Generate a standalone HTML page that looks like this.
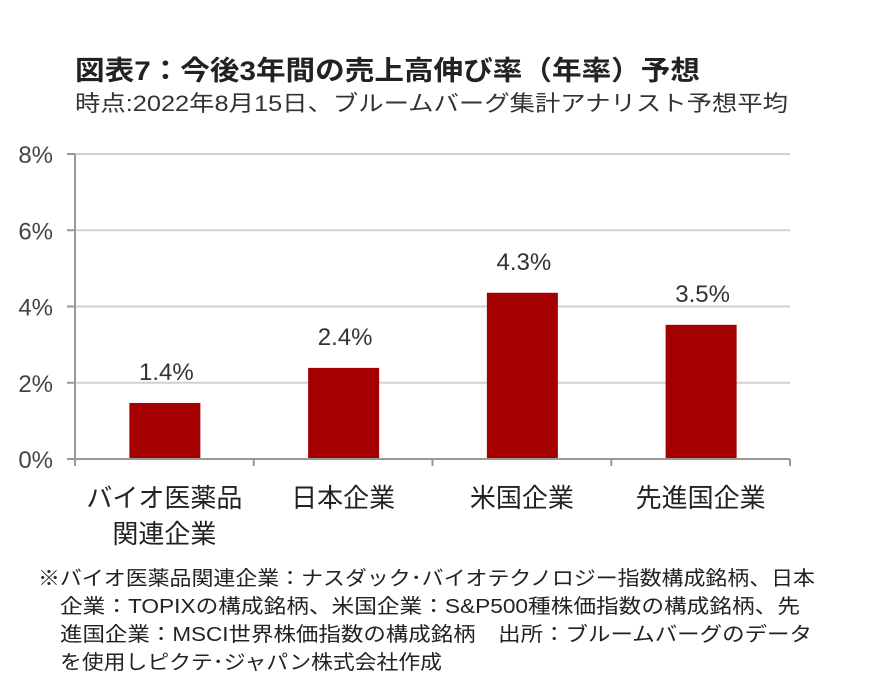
<!DOCTYPE html>
<html><head><meta charset="utf-8"><style>
body{margin:0;background:#fff;width:871px;height:695px;overflow:hidden;font-family:"Liberation Sans","Noto Sans CJK JP",sans-serif;}
svg text{font-family:"Liberation Sans","Noto Sans CJK JP",sans-serif;}
</style></head><body>
<svg width="871" height="695">
<text x="75" y="80" font-size="27" font-weight="bold" fill="#222" textLength="625" lengthAdjust="spacingAndGlyphs">図表7：今後3年間の売上高伸び率（年率）予想</text>
<text x="75" y="111" font-size="22" fill="#333" textLength="713" lengthAdjust="spacingAndGlyphs">時点:2022年8月15日、ブルームバーグ集計アナリスト予想平均</text>
<g id="grid"></g><g id="bars"></g><g id="axes"></g>
<g font-size="20" fill="#222">
<text x="38" y="585" textLength="777" lengthAdjust="spacingAndGlyphs">※バイオ医薬品関連企業：ナスダック･バイオテクノロジー指数構成銘柄、日本</text>
<text x="60" y="613" textLength="740" lengthAdjust="spacingAndGlyphs">企業：TOPIXの構成銘柄、米国企業：S&amp;P500種株価指数の構成銘柄、先</text>
<text x="60" y="641" textLength="752" lengthAdjust="spacingAndGlyphs">進国企業：MSCI世界株価指数の構成銘柄　出所：ブルームバーグのデータ</text>
<text x="60" y="669" textLength="382" lengthAdjust="spacingAndGlyphs">を使用しピクテ･ジャパン株式会社作成</text>
</g>
</svg>
<script>
const categories=[["バイオ医薬品","関連企業"],["日本企業"],["米国企業"],["先進国企業"]];
const values=[1.47,2.39,4.36,3.52];
const labels=["1.4%","2.4%","4.3%","3.5%"];
const ticks=[0,2,4,6,8];
const X0=75,X1=790,Y0=459,Y1=154,YMAX=8;
const y=v=>Y0-(v/YMAX)*(Y0-Y1);
const bw=(X1-X0)/categories.length;
const x=i=>X0+bw*(i+0.5);
const NS="http://www.w3.org/2000/svg";
function mk(t,a,p){const e=document.createElementNS(NS,t);for(const k in a)e.setAttribute(k,a[k]);p.appendChild(e);return e;}
const g=document.getElementById('grid'),b=document.getElementById('bars'),ax=document.getElementById('axes');
ticks.forEach(t=>{
 if(t>0){const l=mk('line',{x1:X0,x2:X1,y1:y(t),y2:y(t),stroke:'#d0d0d0','stroke-width':2},g);
 
 }
 const tk=mk('line',{x1:X0-8,x2:X0,y1:y(t),y2:y(t),stroke:'#999','stroke-width':2},ax);
 
 
 const tx=mk('text',{x:X0-22,y:y(t)+9,'font-size':24,fill:'#444','text-anchor':'end'},ax);
 tx.textContent=t+'%';
 
 
});
const yl=mk('line',{x1:X0,x2:X0,y1:Y1,y2:Y0,stroke:'#999','stroke-width':2},ax);


const xl=mk('line',{x1:X0,x2:X1,y1:Y0,y2:Y0,stroke:'#999','stroke-width':2},ax);


for(let i=0;i<=categories.length;i++){
 const t=mk('line',{x1:X0+bw*i,x2:X0+bw*i,y1:Y0,y2:Y0+7,stroke:'#999','stroke-width':2},ax);
 
 
}
values.forEach((v,i)=>{
 const r=mk('rect',{x:x(i)-35,y:y(v),width:71,height:Y0-y(v),fill:'#a50000'},b);
 
 
 const t=mk('text',{x:x(i)+2,y:y(v)-23,'font-size':24,fill:'#333','text-anchor':'middle'},b);
 t.textContent=labels[i];
 
 
 categories[i].forEach((s,j)=>{
  const c=mk('text',{x:x(i),y:507+j*36,'font-size':26,fill:'#222','text-anchor':'middle'},ax);
  c.textContent=s;
  
  
 });
});
</script>
</body></html>
